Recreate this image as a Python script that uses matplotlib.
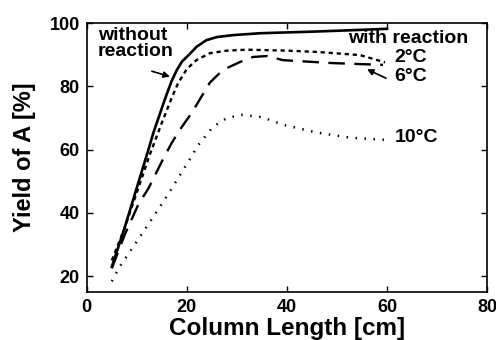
import numpy as np
import matplotlib.pyplot as plt

plt.rcParams['font.family'] = ['Liberation Sans', 'DejaVu Sans']
plt.rcParams['font.weight'] = 'bold'

# column length [cm] vs. yield of A [%]
x_no = [5, 7.5, 9.9, 12.5, 13.3, 15.6, 16.9, 18, 19, 20.6, 22, 23.9, 26, 29.2, 34.6, 45, 52, 60]
y_no = [23, 35, 47.5, 61, 65.3, 75.9, 81.5, 85.2, 87.8, 90.3, 92.6, 94.6, 95.6, 96.2, 96.8, 97.3, 97.7, 98.2]

x_2c = [5, 7.5, 10, 12.6, 15, 17, 18.3, 20, 21.9, 24.6, 28, 32, 40, 46, 54.6, 59.6]
y_2c = [25, 35, 46.5, 58.5, 68.5, 76.5, 81.2, 85.5, 88.3, 90.5, 91.3, 91.6, 91.3, 90.9, 89.9, 87.6]

x_6c = [5, 7.6, 10.3, 12.3, 15.3, 17, 18.6, 21, 24.6, 27.2, 30.6, 33.2, 36, 39.2, 48.6, 59.2]
y_6c = [22.5, 33.2, 42.7, 47.7, 57.2, 62.2, 66.3, 71.7, 81.2, 85.2, 87.7, 89.3, 89.6, 88.3, 87.4, 86.8]

x_10c = [5, 6.6, 10, 13.6, 16.6, 20.2, 22.3, 25.2, 28, 31, 35, 39.2, 46, 52.6, 59.6]
y_10c = [18.4, 23.1, 31, 39.5, 46.8, 56, 61.5, 67.2, 70, 71, 70.3, 67.9, 65.4, 63.8, 63.1]

fig = plt.figure(figsize=(4.96, 3.4), dpi=100)
ax = fig.add_axes([0.175, 0.141, 0.807, 0.791])

ax.plot(x_no, y_no, color='black', lw=1.9, ls='-', solid_joinstyle='round')
ax.plot(x_2c, y_2c, color='black', lw=1.7, ls=(0, (1.8, 1.6)))
ax.plot(x_6c, y_6c, color='black', lw=1.7, ls=(0, (7, 4)))
ax.plot(x_10c, y_10c, color='black', lw=1.8, ls=(0, (0.6, 3.0)))

ax.set_xlim(0, 80)
ax.set_ylim(15, 100)
ax.set_xticks([0, 20, 40, 60, 80])
ax.set_yticks([20, 40, 60, 80, 100])
ax.tick_params(direction='in', top=True, right=True, length=4, width=1,
               labelsize=13, pad=5)
for lab in ax.get_xticklabels() + ax.get_yticklabels():
    lab.set_fontweight('bold')
for s in ax.spines.values():
    s.set_linewidth(1.2)

ax.set_xlabel('Column Length [cm]', fontsize=17.5, fontweight='bold', labelpad=1)
ax.set_ylabel('Yield of A [%]', fontsize=17, fontweight='bold', labelpad=10)

arrow = dict(arrowstyle='-|>', color='black', lw=1.2, mutation_scale=9,
             shrinkA=0, shrinkB=0)
ax.text(2.2, 98.8, 'without\nreaction', fontsize=14, fontweight='bold',
        va='top', ha='left', linespacing=0.9)
ax.annotate('', xy=(16.6, 83.1), xytext=(13.0, 84.8), arrowprops=arrow)
ax.text(52.2, 95, 'with reaction', fontsize=14, fontweight='bold',
        va='center', ha='left')
ax.text(61.5, 89, '2°C', fontsize=14, fontweight='bold', va='center', ha='left')
ax.text(61.5, 83, '6°C', fontsize=14, fontweight='bold', va='center', ha='left')
ax.text(61.5, 63.8, '10°C', fontsize=14, fontweight='bold', va='center', ha='left')
ax.annotate('', xy=(56.0, 85.4), xytext=(59.8, 82.6), arrowprops=arrow)

fig.savefig('out.png', dpi=100)
